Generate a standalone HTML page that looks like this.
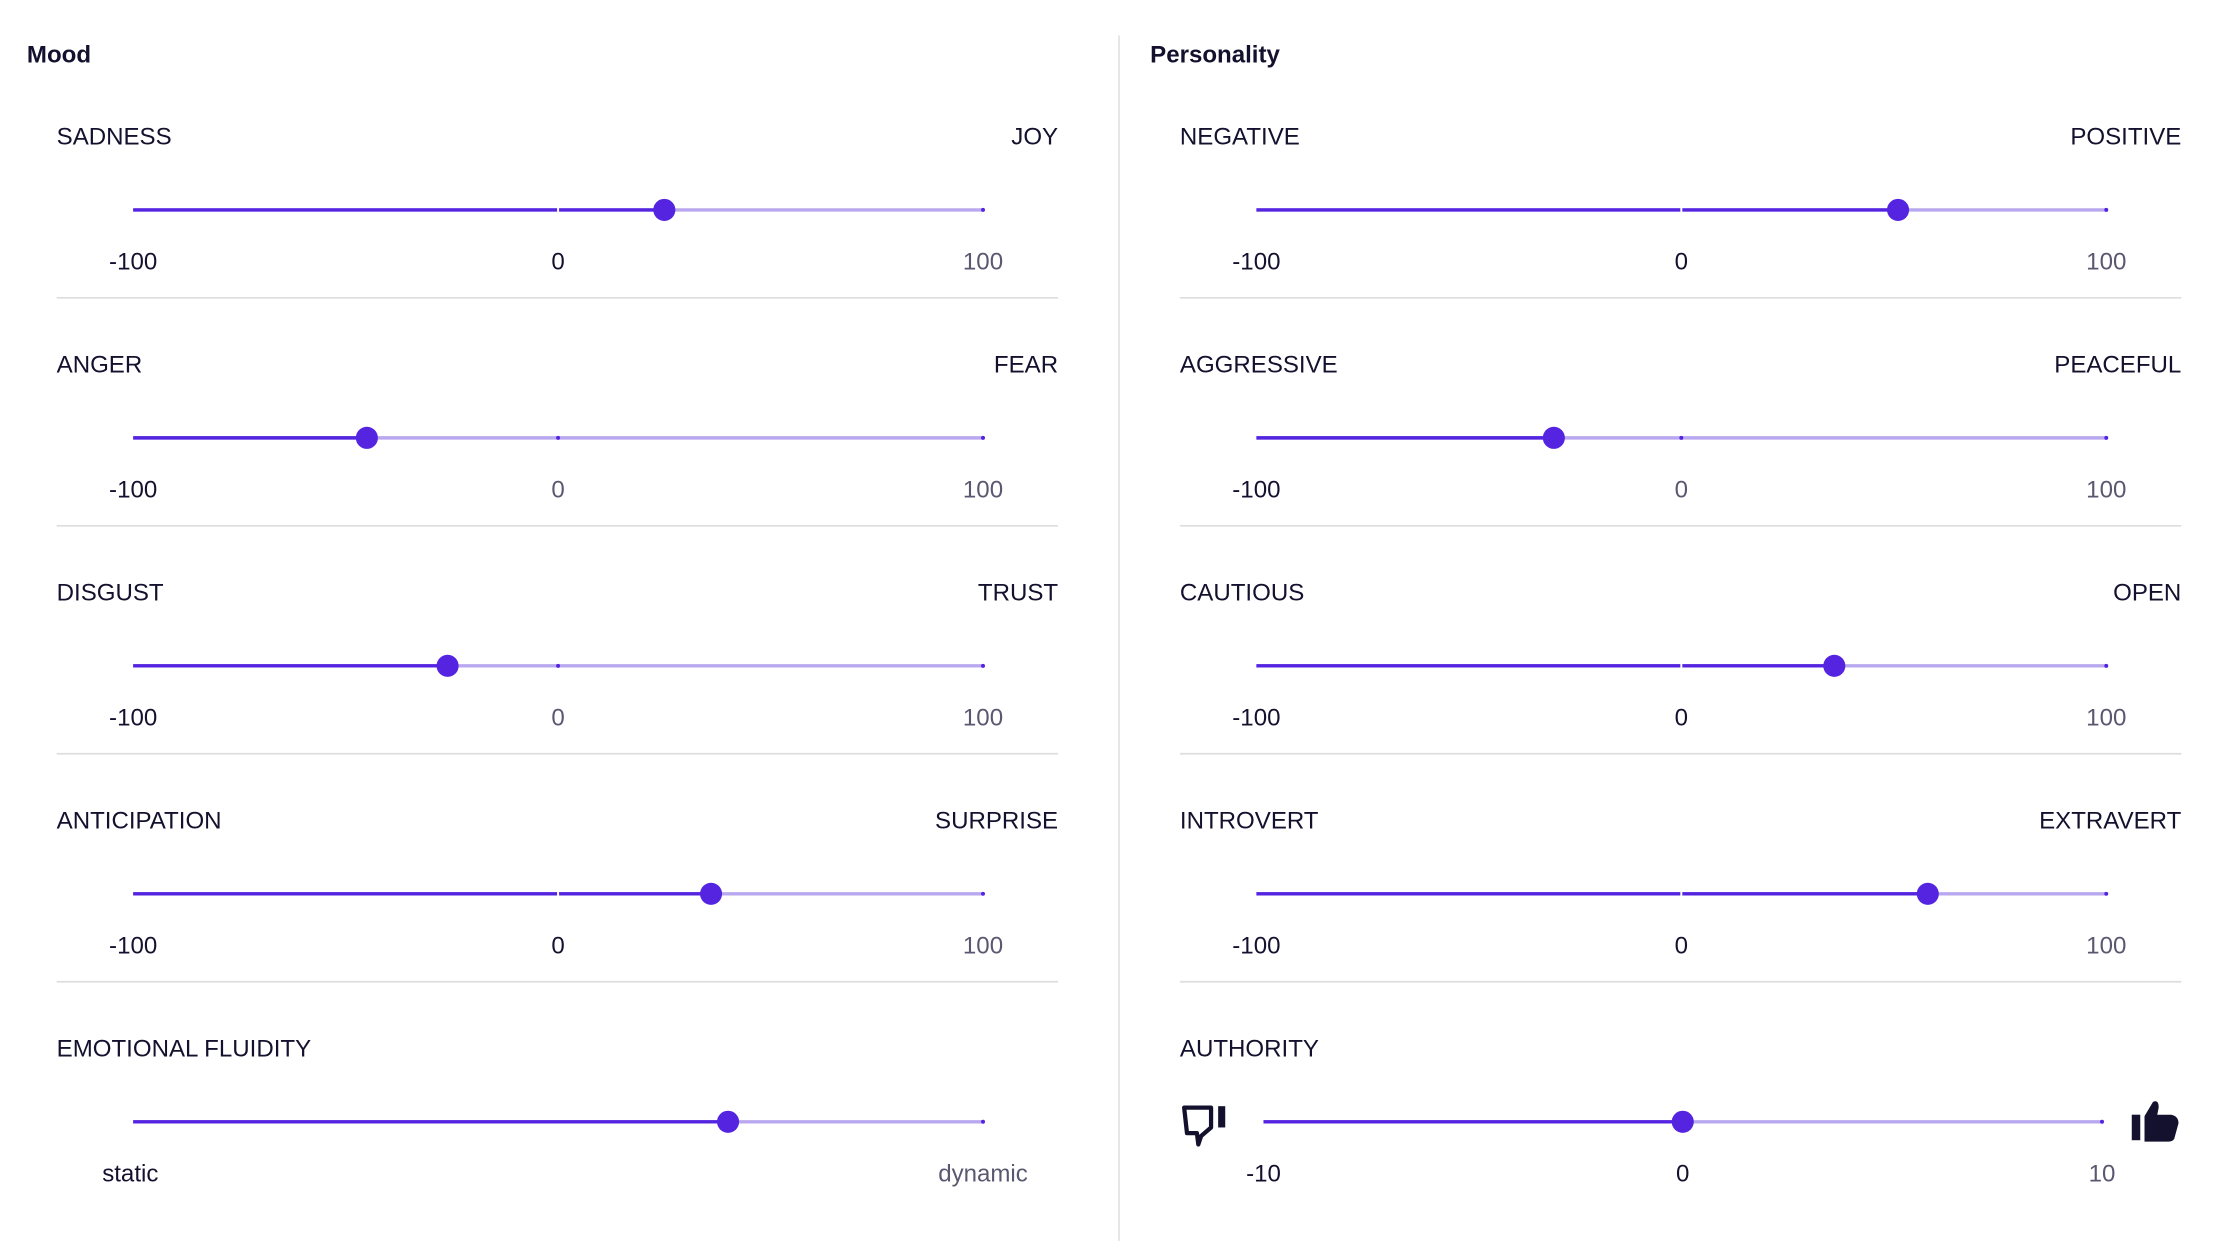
<!DOCTYPE html>
<html><head><meta charset="utf-8"><style>
html,body{margin:0;padding:0;background:#fff;}
svg{display:block;font-family:"Liberation Sans",sans-serif;}
</style></head><body>
<svg id="c" width="2221" height="1248" viewBox="0 0 1568 880" preserveAspectRatio="none" xmlns="http://www.w3.org/2000/svg">
<text x="19" y="44" font-size="17" font-weight="bold" fill="#14112e">Mood</text>
<text x="812" y="44" font-size="17" font-weight="bold" fill="#14112e">Personality</text>
<line x1="790" y1="25" x2="790" y2="875" stroke="#e2e2e2" stroke-width="1.2"/>
<g transform="translate(835,778)">
<path d="M1 3 H20 V17 L13 23 L11 29 L10 21 H3 Z" fill="none" stroke="#14112e" stroke-width="3" stroke-linejoin="round"/>
<rect x="25" y="2" width="5" height="15" fill="#14112e"/>
</g>
<g transform="translate(1505,775)">
<rect x="0" y="11" width="6" height="18" fill="#14112e"/>
<path d="M9 12 L15 2 Q19 0 19 6 L18 11 H28 Q33 12 33 17 L30 28 Q29 30 26 30 H9 Z" fill="#14112e"/>
</g>
<g id="rows"></g>
</svg>
<script>
const leftLabels=["SADNESS","ANGER","DISGUST","ANTICIPATION","EMOTIONAL FLUIDITY"];
const leftRight=["JOY","FEAR","TRUST","SURPRISE",""];
const leftValues=[25,-45,-26,36,70];
const rightLabels=["NEGATIVE","AGGRESSIVE","CAUTIOUS","INTROVERT","AUTHORITY"];
const rightRight=["POSITIVE","PEACEFUL","OPEN","EXTRAVERT",""];
const rightValues=[51,-30,36,58,0];
const tickLabels=["-100","0","100"];
const authTicks=["-10","0","10"];
const fluidTicks=["static","dynamic"];
const NS="http://www.w3.org/2000/svg";
const g=document.getElementById("rows");
function el(t,a,txt){const e=document.createElementNS(NS,t);for(const k in a)e.setAttribute(k,a[k]);if(txt!==undefined)e.textContent=txt;g.appendChild(e);return e;}
const DARK="#5424e0",LIGHT="#b9a8ef",TXT="#14112e",GREY="#5a5870";
function row(colX,i,label,rlabel,val,kind){
  const y0=96+i*160.75;
  const ty=y0+52;
  let x1=colX+54,x2=colX+654,mn=-100,mx=100,ticks=tickLabels,tv=[-100,0,100];
  if(kind==="auth"){x1=colX+59;x2=colX+651;mn=-10;mx=10;ticks=authTicks;tv=[-10,0,10];}
  if(kind==="fluid"){mn=0;mx=100;}
  const sx=v=>x1+(v-mn)/(mx-mn)*(x2-x1);
  let e=el("text",{x:colX,y:y0+6,"font-size":17,fill:TXT},label);
  
  
  if(rlabel){e=el("text",{x:colX+707,y:y0+6,"font-size":17,fill:TXT,"text-anchor":"end"},rlabel);
  
  }
  const tx=sx(val);
  e=el("line",{x1:x1,y1:ty,x2:x2,y2:ty,stroke:LIGHT,"stroke-width":2.4});
  
  
  e=el("line",{x1:x1,y1:ty,x2:tx,y2:ty,stroke:DARK,"stroke-width":2.4});
  
  
  if(kind!=="fluid"&&kind!=="auth"){
    const zx=sx(0);
    if(val>0){e=el("line",{x1:zx,y1:ty-2,x2:zx,y2:ty+2,stroke:"#fff","stroke-width":1.4});}
    else{e=el("circle",{cx:zx,cy:ty,r:1.4,fill:DARK});}
    
    
  }
  e=el("circle",{cx:x2,cy:ty,r:1.4,fill:DARK});
  
  
  e=el("circle",{cx:tx,cy:ty,r:7.8,fill:DARK});
  
  
  if(kind==="fluid"){
    e=el("text",{x:sx(0)-2,y:ty+42,"font-size":17,fill:TXT,"text-anchor":"middle"},fluidTicks[0]);
    
    
    e=el("text",{x:sx(100),y:ty+42,"font-size":17,fill:GREY,"text-anchor":"middle"},fluidTicks[1]);
    
    
  } else {
    const yl=ty+42;
    ticks.forEach((t,j)=>{
      const c=(j===0||tv[j]<=val)?TXT:GREY;
      e=el("text",{x:sx(tv[j]),y:yl,"font-size":17,fill:c,"text-anchor":"middle"},t);
      
      
    });
  }
  if(i<4){e=el("line",{x1:colX,y1:y0+114,x2:colX+707,y2:y0+114,stroke:"#dedede","stroke-width":1.2});
  
  }
}
for(let i=0;i<5;i++){
  row(40,i,leftLabels[i],leftRight[i],leftValues[i],i===4?"fluid":"std");
  row(833,i,rightLabels[i],rightRight[i],rightValues[i],i===4?"auth":"std");
}
</script>
</body></html>
